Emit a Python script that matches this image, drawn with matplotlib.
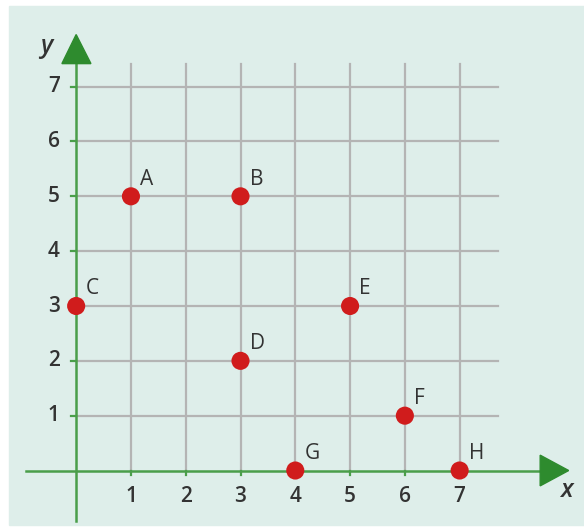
import matplotlib.pyplot as plt
from matplotlib.patches import Rectangle, Polygon

# --- data ---
labels = ["A", "B", "C", "D", "E", "F", "G", "H"]
xs = [1, 3, 0, 3, 5, 6, 4, 7]
ys = [5, 5, 3, 2, 3, 1, 0, 0]
x_ticks = [1, 2, 3, 4, 5, 6, 7]
y_ticks = [1, 2, 3, 4, 5, 6, 7]

BG = "#deeeea"
GRID = "#b4b4b4"
AXIS = "#4a9e4a"
ARROW = "#2e8b2e"
DOT = "#d01c1c"
TXT = "#333333"

plt.rcParams["font.family"] = ["Open Sans", "DejaVu Sans"]

fig = plt.figure(figsize=(5.84, 5.27), dpi=100)
ax = fig.add_axes([0, 0, 1, 1])
ax.set_xlim(-1.39, 9.27)
ax.set_ylim(-1.03, 8.58)
ax.axis("off")

# panel background (white strip at top and left)
ax.add_patch(Rectangle((9 / 584, 2 / 527), 1, 519 / 527,
                       transform=fig.transFigure, color=BG, zorder=0,
                       clip_on=False))

# grid
for x in x_ticks:
    ax.plot([x, x], [0, 7.42], color=GRID, lw=1.6, zorder=1)
for y in y_ticks:
    ax.plot([0, 7.7], [y, y], color=GRID, lw=1.6, zorder=1)

# axes
ax.plot([-0.91, 8.5], [0, 0], color=AXIS, lw=1.8, zorder=2)
ax.plot([0, 0], [-0.92, 7.45], color=AXIS, lw=1.8, zorder=2)
ax.add_patch(Polygon([[8.47, 0.28], [8.47, -0.28], [8.99, 0]],
                     closed=True, color=ARROW, zorder=3))
ax.add_patch(Polygon([[-0.26, 7.42], [0.27, 7.42], [0.0, 7.95]],
                     closed=True, color=ARROW, zorder=3))

# ticks and tick labels
for x in x_ticks:
    ax.plot([x, x], [0, -0.08], color=AXIS, lw=1.6, zorder=2)
    ax.text(x, -0.47, str(x), ha="center", va="center", fontsize=15,
            color=TXT, weight="semibold")
for y in y_ticks:
    ax.plot([-0.1, 0], [y, y], color=AXIS, lw=1.6, zorder=2)
    ax.text(-0.3, y, str(y), ha="right", va="center", fontsize=15,
            color=TXT, weight="semibold")

ax.text(-0.55, 7.73, "y", ha="center", va="center", fontsize=18,
        style="italic", color=TXT, weight="semibold")
ax.text(8.95, -0.36, "x", ha="center", va="center", fontsize=18,
        style="italic", color=TXT, weight="semibold")

# points
ax.scatter(xs, ys, s=170, color=DOT, zorder=5, edgecolors="none")
for lab, x, y in zip(labels, xs, ys):
    ax.text(x + 0.17, y + 0.31, lab, ha="left", va="center", fontsize=15,
            color=TXT)

fig.savefig("out.png", dpi=100, facecolor="white")
